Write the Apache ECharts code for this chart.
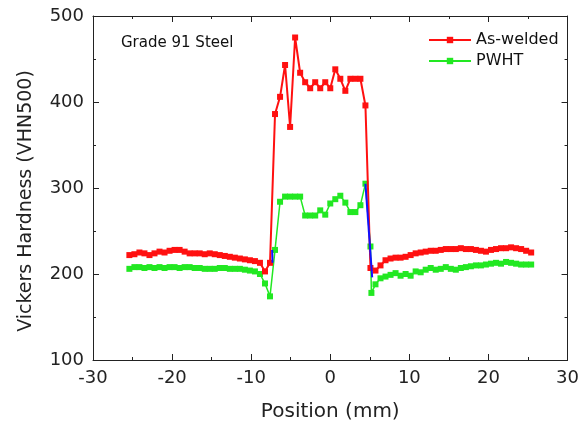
<!DOCTYPE html>
<html>
<head>
<meta charset="utf-8">
<script src="https://cdn.jsdelivr.net/npm/echarts@6/dist/echarts.min.js"></script>
<style>
  html, body { margin: 0; padding: 0; background: #fff; }
  #chart { width: 582px; height: 427px; }
</style>
</head>
<body>
<div id="chart"></div>
<script>
// Measurement positions (mm), 0.635 mm pitch across the weld
const positions = [
  -25.4, -24.765, -24.13, -23.495, -22.86, -22.225, -21.59, -20.955, -20.32, -19.685,
  -19.05, -18.415, -17.78, -17.145, -16.51, -15.875, -15.24, -14.605, -13.97, -13.335,
  -12.7, -12.065, -11.43, -10.795, -10.16, -9.525, -8.89, -8.255, -7.62, -6.985,
  -6.35, -5.715, -5.08, -4.445, -3.81, -3.175, -2.54, -1.905, -1.27, -0.635,
  0, 0.635, 1.27, 1.905, 2.54, 3.175, 3.81, 4.445, 5.08, 5.715,
  6.35, 6.985, 7.62, 8.255, 8.89, 9.525, 10.16, 10.795, 11.43, 12.065,
  12.7, 13.335, 13.97, 14.605, 15.24, 15.875, 16.51, 17.145, 17.78, 18.415,
  19.05, 19.685, 20.32, 20.955, 21.59, 22.225, 22.86, 23.495, 24.13, 24.765,
  25.4
];

// As-welded hardness (VHN500)
const asWelded = [
  222, 223, 225, 224, 222, 224, 226, 225, 227, 228,
  228, 226, 224, 224, 224, 223, 224, 223, 222, 221,
  220, 219, 218, 217, 216, 215, 213, 203, 213, 386,
  406, 443, 371, 475, 434, 423, 416, 423, 416, 423,
  416, 438, 427, 413, 427, 427, 427, 396, 207, 204,
  210, 216, 218, 219, 219, 220, 222, 224, 225, 226,
  227, 227, 228, 229, 229, 229, 230, 229, 229, 228,
  227, 226, 228, 229, 230, 230, 231, 230, 229, 227,
  225
];

// Post-weld heat treated hardness (VHN500)
const pwhtPositions = [
  -25.4, -24.765, -24.13, -23.495, -22.86, -22.225, -21.59, -20.955, -20.32, -19.685,
  -19.05, -18.415, -17.78, -17.145, -16.51, -15.875, -15.24, -14.605, -13.97, -13.335,
  -12.7, -12.065, -11.43, -10.795, -10.16, -9.525, -8.89, -8.255, -7.62, -6.985,
  -6.35, -5.715, -5.08, -4.445, -3.81, -3.175, -2.54, -1.905, -1.27, -0.635,
  0, 0.635, 1.27, 1.905, 2.54, 3.175, 3.81, 4.445, 5.08, 5.2,
  5.715, 6.35, 6.985, 7.62, 8.255, 8.89, 9.525, 10.16, 10.795, 11.43,
  12.065, 12.7, 13.335, 13.97, 14.605, 15.24, 15.875, 16.51, 17.145, 17.78,
  18.415, 19.05, 19.685, 20.32, 20.955, 21.59, 22.225, 22.86, 23.495, 24.13,
  24.765, 25.4
];
const pwht = [
  206, 208, 208, 207, 208, 207, 208, 207, 208, 208,
  207, 208, 208, 207, 207, 206, 206, 206, 207, 207,
  206, 206, 206, 205, 204, 203, 200, 189, 174, 228,
  284, 290, 290, 290, 290, 268, 268, 268, 274, 269,
  282, 287, 291, 283, 272, 272, 280, 305, 232, 178,
  188, 195, 197, 199, 201, 198, 200, 198, 203, 202,
  205, 207, 205, 206, 208, 206, 205, 207, 208, 209,
  210, 210, 211, 212, 213, 212, 214, 213, 212, 211,
  211, 211
];

// Short stretches where the two traces overlap at the fusion lines
const overlapLeft = [[-7.35, 228], [-7.3, 213]];
const overlapRight = [[4.445, 305], [5.3, 196]];

const xTicks = { min: -30, max: 30, interval: 10 };
const yTicks = { min: 100, max: 500, interval: 100 };

const pair = (xs, ys) => xs.map((x, i) => [x, ys[i]]);

const wide = 'DejaVu Sans, Verdana, sans-serif';
const axisLine = { show: true, onZero: false, lineStyle: { color: '#222', width: 1 } };
const tick = { show: true, inside: true, length: 6, lineStyle: { color: '#222' } };
const minor = { show: true, splitNumber: 2, length: 3, lineStyle: { color: '#222' } };

const chart = echarts.init(document.getElementById('chart'), null, { renderer: 'canvas' });
chart.setOption({
  animation: false,
  backgroundColor: '#fff',
  grid: { left: 93, right: 14, top: 16, bottom: 67 },
  title: {
    text: 'Grade 91 Steel',
    left: 116, top: 31,
    textStyle: { fontFamily: wide, fontSize: 15, fontWeight: 'normal', color: '#111' }
  },
  legend: {
    data: ['As-welded', 'PWHT'],
    orient: 'vertical',
    left: 423, top: 27,
    itemWidth: 42, itemHeight: 8, itemGap: 5,
    textStyle: { fontFamily: wide, fontSize: 16, color: '#111' }
  },
  xAxis: [
    {
      type: 'value', ...xTicks,
      name: 'Position (mm)', nameLocation: 'middle', nameGap: 42,
      nameTextStyle: { fontFamily: wide, fontSize: 20, color: '#222' },
      axisLine, axisTick: tick, minorTick: minor, splitLine: { show: false },
      axisLabel: { fontFamily: wide, fontSize: 18, color: '#222', margin: 9 }
    },
    {
      type: 'value', position: 'top', ...xTicks,
      axisLine, axisTick: tick, minorTick: minor, splitLine: { show: false },
      axisLabel: { show: false }
    }
  ],
  yAxis: [
    {
      type: 'value', ...yTicks,
      name: 'Vickers Hardness (VHN500)', nameLocation: 'middle', nameGap: 57,
      nameTextStyle: { fontFamily: wide, fontSize: 19, color: '#222', padding: [0, 26, 0, 0] },
      axisLine, axisTick: tick, minorTick: minor, splitLine: { show: false },
      axisLabel: { fontFamily: wide, fontSize: 18, color: '#222', margin: 9 }
    },
    {
      type: 'value', position: 'right', ...yTicks,
      axisLine, axisTick: tick, minorTick: minor, splitLine: { show: false },
      axisLabel: { show: false }
    }
  ],
  series: [
    {
      name: 'PWHT', type: 'line', data: pair(pwhtPositions, pwht),
      symbol: 'rect', symbolSize: 6,
      itemStyle: { color: '#22e822' },
      lineStyle: { color: '#22e822', width: 1.5 },
      z: 2
    },
    {
      name: 'As-welded', type: 'line', data: pair(positions, asWelded),
      symbol: 'rect', symbolSize: 6,
      itemStyle: { color: '#ff1010' },
      lineStyle: { color: '#ff1010', width: 2 },
      z: 3
    },
    {
      name: 'overlapL', type: 'line', data: overlapLeft, symbol: 'none',
      lineStyle: { color: '#1010ff', width: 2 }, z: 4
    },
    {
      name: 'overlapR', type: 'line', data: overlapRight, symbol: 'none',
      lineStyle: { color: '#1010ff', width: 2 }, z: 4
    }
  ]
});
</script>
</body>
</html>
